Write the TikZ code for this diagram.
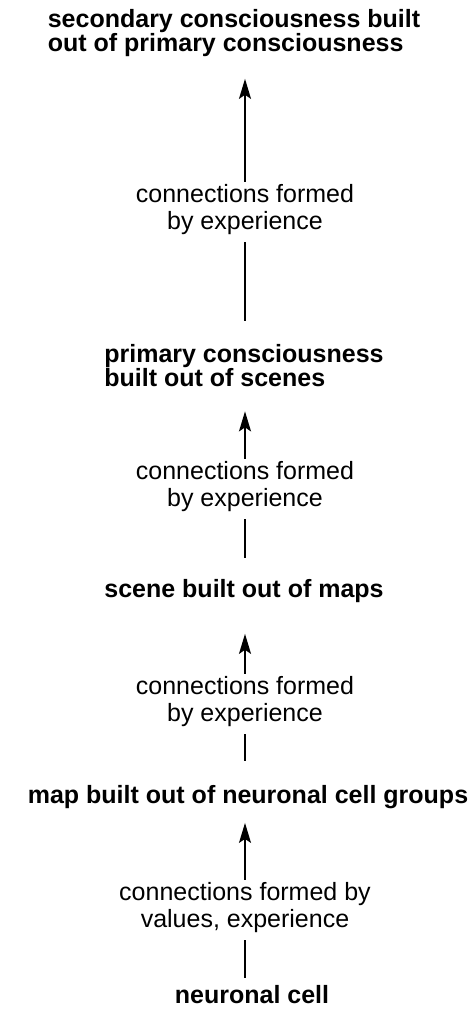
\documentclass[tikz,border=0pt]{standalone}
\usepackage{fontspec}
\setmainfont{Liberation Sans}
\usetikzlibrary{arrows.meta}

\begin{document}
\begin{tikzpicture}[
  x=1pt,y=-1pt,
  >={Stealth[length=20pt,width=12pt,inset=4pt]},
  level/.style={font=\fontsize{25}{24}\selectfont\bfseries,align=left,inner sep=0pt},
  lab/.style={font=\fontsize{25}{27}\selectfont,align=center,inner sep=0pt},
  link/.style={line width=1.6pt,black},
  up/.style={link,->,shorten <=3pt,shorten >=#1},
  low/.style={link,shorten <=7pt,shorten >=#1}
]
\useasboundingbox (0,0) rectangle (471,1010);

% \xa = abscisse commune des fleches
\def\xa{245}

% niveaux (du haut vers le bas)
\node[level] (second)  at (234,33)  {secondary consciousness built\\out of primary consciousness};
\node[level] (primary) at (244,366) {primary consciousness\\built out of scenes};
\node[level] (scene)   at (244,591) {scene built out of maps};
\node[level] (map)     at (248,797) {map built out of neuronal cell groups};
\node[level] (cell)    at (252,995) {neuronal cell};

% etiquettes des connexions
\node[lab] (c1) at (\xa,210) {connections formed\\by experience};
\node[lab] (c2) at (\xa,487) {connections formed\\by experience};
\node[lab] (c3) at (\xa,702) {connections formed\\by experience};
\node[lab] (c4) at (\xa,908) {connections formed by\\values, experience};

% fleches : segment bas + segment haut avec pointe
\draw[low=8pt]  (c4.south) -- (c4.south |- cell.north);
\draw[up=14pt]  (c4.north) -- (c4.north |- map.south);
\draw[low=24pt] (c3.south) -- (c3.south |- map.north);
\draw[up=31pt]  (c3.north) -- (c3.north |- scene.south);
\draw[low=21pt] (c2.south) -- (c2.south |- scene.north);
\draw[up=24pt]  (c2.north) -- (c2.north |- primary.south);
\draw[low=24pt] (c1.south) -- (c1.south |- primary.north);
\draw[up=22pt]  (c1.north) -- (c1.north |- second.south);

\end{tikzpicture}
\end{document}
